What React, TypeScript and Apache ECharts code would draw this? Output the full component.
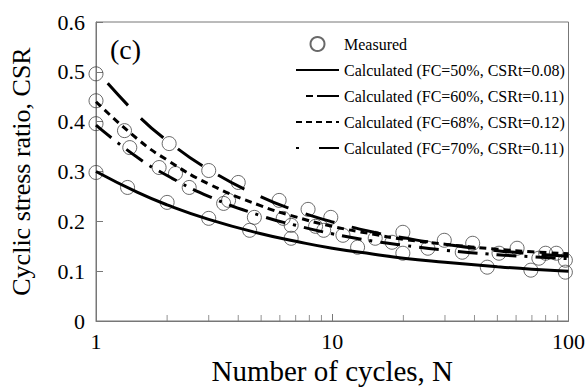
import React, { useEffect, useRef } from "react";
import * as echarts from "echarts";

// Number of cycles at which the calculated curves were read
const curveN = [1, 1.5, 2, 3, 5, 7, 10, 15, 20, 30, 50, 70, 100];
const fc50 = [0.300, 0.258, 0.233, 0.204, 0.175, 0.160, 0.146, 0.134, 0.126, 0.118, 0.109, 0.104, 0.100];
const fc60 = [0.504, 0.413, 0.362, 0.304, 0.249, 0.222, 0.199, 0.178, 0.167, 0.154, 0.141, 0.135, 0.130];
const fc68 = [0.440, 0.365, 0.323, 0.275, 0.231, 0.209, 0.190, 0.174, 0.164, 0.154, 0.144, 0.139, 0.135];
const fc70 = [0.393, 0.328, 0.292, 0.250, 0.211, 0.192, 0.175, 0.160, 0.152, 0.142, 0.133, 0.129, 0.125];

// Measured points
const measuredN = [
  1, 1, 1, 1, 1.32, 1.39, 1.36, 1.85, 2.04, 2.0, 2.17, 2.48, 3.0, 3.0, 3.47, 3.64,
  4.0, 4.47, 4.68, 5.96, 6.2, 6.7, 6.7, 7.9, 8.5, 9.2, 9.86, 11.1, 12.8, 15.2, 17.9,
  19.9, 19.9, 25.4, 29.8, 35.5, 39.3, 45.3, 50.8, 60.6, 69.3, 74.9, 80, 88.8, 97, 97,
];
const measuredCSR = [
  0.496, 0.442, 0.396, 0.298, 0.382, 0.348, 0.268, 0.308, 0.356, 0.238, 0.296, 0.268, 0.302, 0.206, 0.236, 0.242,
  0.278, 0.182, 0.208, 0.242, 0.206, 0.192, 0.166, 0.224, 0.19, 0.182, 0.208, 0.172, 0.148, 0.166, 0.158,
  0.178, 0.136, 0.146, 0.162, 0.138, 0.156, 0.108, 0.136, 0.146, 0.102, 0.126, 0.136, 0.136, 0.122, 0.098,
];

const minorTickN = [2, 3, 4, 5, 6, 7, 8, 9, 20, 30, 40, 50, 60, 70, 80, 90];

const seriesNames = [
  "Measured",
  "Calculated (FC=50%, CSRt=0.08)",
  "Calculated (FC=60%, CSRt=0.11)",
  "Calculated (FC=68%, CSRt=0.12)",
  "Calculated (FC=70%, CSRt=0.11)",
];

const FONT = "'Liberation Serif', 'DejaVu Serif', serif";
const AXIS_COLOR = "#777";

function pairs(xs: number[], ys: number[]) {
  return xs.map((x, i) => [x, ys[i]]);
}

export default function App() {
  const ref = useRef<HTMLDivElement>(null);
  useEffect(() => {
    if (!ref.current) return;
    const chart = echarts.init(ref.current, undefined, { renderer: "svg" });
    const lineBase = { type: "line", showSymbol: false, symbol: "none", smooth: true, z: 3 };
    const hiddenSym = { opacity: 0, color: "rgba(0,0,0,0)", borderWidth: 0 };
    chart.setOption({
      animation: false,
      textStyle: { fontFamily: FONT, color: "#000" },
      grid: {
        left: 93,
        right: 18,
        top: 22,
        bottom: 71,
        containLabel: false,
        show: true,
        borderColor: AXIS_COLOR,
        borderWidth: 1,
        backgroundColor: "transparent",
      },
      legend: {
        orient: "vertical",
        left: 295,
        top: 36,
        padding: 0,
        align: "left",
        itemWidth: 43,
        itemHeight: 14,
        itemGap: 10,
        data: [
          { name: seriesNames[0] },
          { name: seriesNames[1], itemStyle: hiddenSym, lineStyle: { type: "solid" } },
          { name: seriesNames[2], itemStyle: hiddenSym, lineStyle: { type: [7, 4, 22, 10], dashOffset: 33 } },
          { name: seriesNames[3], itemStyle: hiddenSym, lineStyle: { type: [6, 4], dashOffset: 0 } },
          { name: seriesNames[4], itemStyle: hiddenSym, lineStyle: { type: [3, 20, 20, 10], dashOffset: 0 } },
        ],
        textStyle: { fontFamily: FONT, fontSize: 16, color: "#000" },
        selectedMode: false,
      },
      graphic: [
        {
          type: "text",
          left: 110,
          top: 35,
          style: { text: "(c)", fontFamily: FONT, fontSize: 28, fill: "#000" },
        },
      ],
      xAxis: {
        type: "log",
        logBase: 10,
        min: 1,
        max: 100,
        name: "Number of cycles, N",
        nameLocation: "middle",
        nameGap: 34,
        nameTextStyle: { fontFamily: FONT, fontSize: 29, color: "#000" },
        axisLine: { lineStyle: { color: AXIS_COLOR, width: 1 } },
        axisTick: { inside: true, length: 7, lineStyle: { color: AXIS_COLOR } },
        axisLabel: { fontFamily: FONT, fontSize: 22, color: "#000", margin: 9 },
        splitLine: { show: false },
      },
      yAxis: {
        type: "value",
        min: 0,
        max: 0.6,
        interval: 0.1,
        name: "Cyclic stress ratio, CSR",
        nameLocation: "middle",
        nameGap: 62,
        nameTextStyle: { fontFamily: FONT, fontSize: 26, color: "#000" },
        axisLine: { show: true, lineStyle: { color: AXIS_COLOR, width: 1 } },
        axisTick: { show: true, inside: true, length: 7, lineStyle: { color: AXIS_COLOR } },
        axisLabel: {
          fontFamily: FONT,
          fontSize: 22,
          color: "#000",
          margin: 11,
          formatter: (v: number) => (v === 0 ? "0" : v.toFixed(1)),
        },
        splitLine: { show: false },
      },
      series: [
        {
          name: seriesNames[0],
          type: "scatter",
          symbol: "circle",
          symbolSize: 14,
          data: pairs(measuredN, measuredCSR),
          itemStyle: { color: "rgba(0,0,0,0)", borderColor: "#444", borderWidth: 1 },
          z: 2,
        },
        {
          ...lineBase,
          name: seriesNames[1],
          data: pairs(curveN, fc50),
          lineStyle: { color: "#000", width: 3, type: "solid" },
          itemStyle: { color: "#000" },
        },
        {
          ...lineBase,
          name: seriesNames[2],
          data: pairs(curveN, fc60),
          lineStyle: { color: "#000", width: 3, type: [30, 18], dashOffset: 30 },
          itemStyle: { color: "#000" },
        },
        {
          ...lineBase,
          name: seriesNames[3],
          data: pairs(curveN, fc68),
          lineStyle: { color: "#000", width: 3, type: [7, 5] },
          itemStyle: { color: "#000" },
        },
        {
          ...lineBase,
          name: seriesNames[4],
          data: pairs(curveN, fc70),
          lineStyle: { color: "#000", width: 3, type: [20, 8, 3, 8] },
          itemStyle: { color: "#000" },
        },
        {
          name: "minorTicks",
          type: "scatter",
          symbol: "rect",
          symbolSize: [1, 6],
          symbolOffset: [0, -3],
          silent: true,
          clip: false,
          data: minorTickN.map((n) => [n, 0]),
          itemStyle: { color: AXIS_COLOR },
          z: 1,
        },
      ],
    });
    return () => chart.dispose();
  }, []);
  return (
    <div
      ref={ref}
      style={{ position: "fixed", left: 0, top: 0, width: 588, height: 392, background: "#fff" }}
    />
  );
}
